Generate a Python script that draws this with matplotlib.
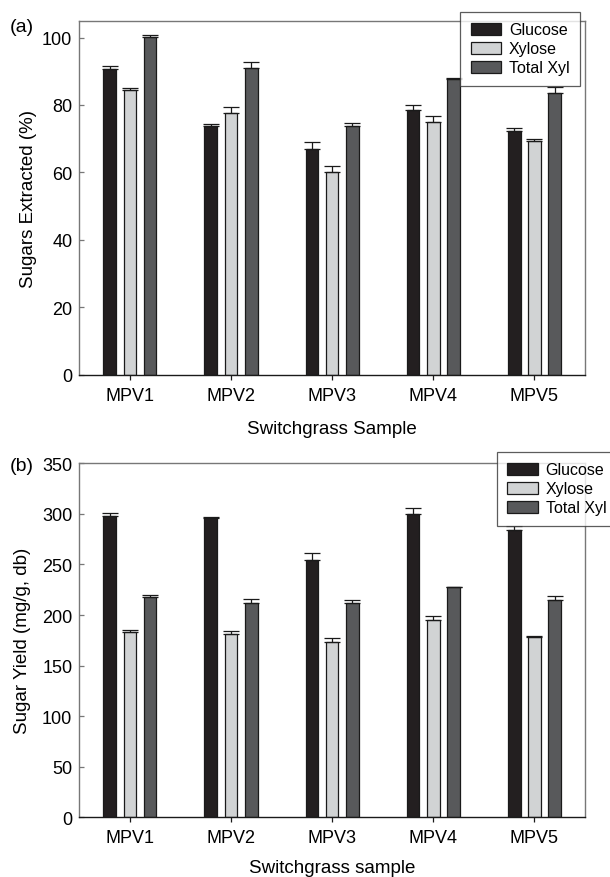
import numpy as np
import matplotlib
matplotlib.use("Agg")
import matplotlib.pyplot as plt

plt.rcParams['font.family'] = ['Liberation Sans', 'DejaVu Sans']

samples = ['MPV1', 'MPV2', 'MPV3', 'MPV4', 'MPV5']
series = ['Glucose', 'Xylose', 'Total Xyl']
colors = ['#231f20', '#d1d3d4', '#58595b']

# (a) sugars extracted, %
pct_glucose = [90.6, 73.9, 66.9, 78.5, 72.4]
pct_xylose = [84.4, 77.7, 60.1, 75.0, 69.3]
pct_total = [100.1, 90.9, 73.9, 87.8, 83.6]
pct_glucose_err = [0.9, 0.5, 2.1, 1.6, 0.8]
pct_xylose_err = [0.6, 1.6, 1.8, 1.6, 0.6]
pct_total_err = [0.8, 1.8, 0.8, 0.1, 1.6]

# (b) sugar yield, mg/g db
yld_glucose = [298.2, 295.5, 254.6, 300.1, 284.3]
yld_xylose = [183.3, 180.9, 173.3, 194.8, 178.3]
yld_total = [217.9, 211.6, 212.3, 227.8, 214.6]
yld_glucose_err = [3.0, 1.3, 7.2, 6.0, 3.3]
yld_xylose_err = [2.0, 3.3, 4.3, 4.0, 0.7]
yld_total_err = [1.7, 4.0, 2.3, 0.3, 4.3]


def draw_panel(ax, vals, errs, ymax, yticks, ylabel, xlabel, ylpad, xlpad):
    x = np.arange(1, len(samples) + 1)
    offsets = [-0.2, 0.0, 0.2]
    for v, e, c, off, name in zip(vals, errs, colors, offsets, series):
        ax.bar(x + off, v, width=0.125, color=c, edgecolor='#1a1a1a',
               linewidth=0.9, label=name, zorder=2)
        ax.errorbar(x + off, v, yerr=[np.zeros(len(v)), e], fmt='none',
                    ecolor='#1a1a1a', elinewidth=0.9, capsize=5.5,
                    capthick=0.9, zorder=3)
    ax.set_xlim(0.5, 5.5)
    ax.set_ylim(0, ymax)
    ax.set_xticks(x)
    ax.set_xticklabels(samples)
    ax.set_yticks(yticks)
    ax.tick_params(axis='x', direction='out', length=3.5, width=0.9,
                   pad=5, labelsize=13, color='#1a1a1a')
    ax.tick_params(axis='y', direction='in', length=3.5, width=0.9,
                   pad=5, labelsize=13, color='#777777')
    for s in ['left', 'top', 'right']:
        ax.spines[s].set_color('#777777')
        ax.spines[s].set_linewidth(1.0)
    ax.spines['bottom'].set_color('#1a1a1a')
    ax.spines['bottom'].set_linewidth(1.0)
    ax.set_ylabel(ylabel, fontsize=13.5, labelpad=ylpad)
    ax.set_xlabel(xlabel, fontsize=13.5, labelpad=xlpad)


fig = plt.figure(figsize=(6.1, 8.78), dpi=100)
ax1 = fig.add_axes([0.130, 0.5721, 0.829, 0.4032])
ax2 = fig.add_axes([0.130, 0.0679, 0.829, 0.4033])

draw_panel(ax1, [pct_glucose, pct_xylose, pct_total],
           [pct_glucose_err, pct_xylose_err, pct_total_err],
           105, np.arange(0, 101, 20), 'Sugars Extracted (%)', 'Switchgrass Sample',
           4, 12)
draw_panel(ax2, [yld_glucose, yld_xylose, yld_total],
           [yld_glucose_err, yld_xylose_err, yld_total_err],
           350, np.arange(0, 351, 50), 'Sugar Yield (mg/g, db)', 'Switchgrass sample',
           8, 9.5)

leg_kw = dict(fontsize=11.5, frameon=True, fancybox=False, edgecolor='#333333',
              handlelength=1.9, handleheight=0.75, handletextpad=0.5,
              labelspacing=0.25, borderpad=0.65, borderaxespad=0,
              bbox_transform=fig.transFigure)
l1 = ax1.legend(loc='upper right', bbox_to_anchor=(580 / 610, 1 - 13 / 878), **leg_kw)
l2 = ax2.legend(loc='upper left', bbox_to_anchor=(497 / 610, 1 - 453 / 878), **leg_kw)
for leg in (l1, l2):
    leg.get_frame().set_linewidth(0.9)
    leg.set_zorder(5)

fig.text(10 / 610, 1 - 27 / 878, '(a)', fontsize=14, ha='left', va='center')
fig.text(10 / 610, 1 - 467 / 878, '(b)', fontsize=14, ha='left', va='center')

fig.savefig('out.png', dpi=100)
